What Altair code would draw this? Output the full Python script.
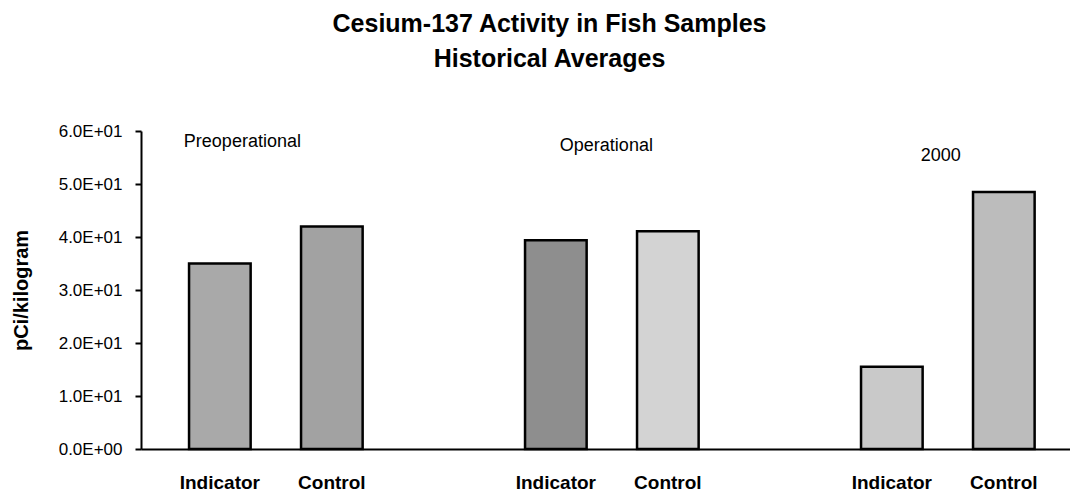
import altair as alt
import pandas as pd

# ---- data ----
periods = ["Preoperational", "Operational", "2000"]
sample_types = ["Indicator", "Control"]
indicator_vals = [35.0, 39.4, 15.5]
control_vals = [42.0, 41.1, 48.5]
label_y_vals = [57.9, 57.2, 55.3]          # where the period captions sit (pCi/kg units)
y_ticks = [0, 10, 20, 30, 40, 50, 60]

# x slots: two bars per period with an empty slot between periods
slots = [
    "Preoperational|Indicator", "Preoperational|Control", "gap1",
    "Operational|Indicator", "Operational|Control", "gap2",
    "2000|Indicator", "2000|Control",
]

rows = []
for p, iv, cv in zip(periods, indicator_vals, control_vals):
    rows.append({"slot": f"{p}|Indicator", "period": p, "type": "Indicator", "value": iv})
    rows.append({"slot": f"{p}|Control", "period": p, "type": "Control", "value": cv})
df = pd.DataFrame(rows)

lab_df = pd.DataFrame({
    "period": periods,
    "slot": [f"{p}|Indicator" for p in periods],
    "label_y": label_y_vals,
})

# styles
bar_keys = list(df["slot"])
bar_grays = ["#a9a9a9", "#a2a2a2", "#8e8e8e", "#d3d3d3", "#c9c9c9", "#bcbcbc"]
label_dx = {"Preoperational": -36, "Operational": 4, "2000": 29}
FONT = "Liberation Sans"

xscale = alt.Scale(domain=slots, paddingInner=0.45, paddingOuter=0.3724, align=0.576)
yscale = alt.Scale(domain=[0, 60], nice=False, zero=True)

x_axis = alt.Axis(
    title=None,
    labelExpr="indexof(datum.label, '|') >= 0 ? split(datum.label, '|')[1] : ''",
    labelFont=FONT, labelFontSize=19, labelFontWeight="bold", labelColor="black",
    labelPadding=24, labelBaseline="top", labelAngle=0,
    ticks=False, domainColor="black", domainWidth=2, grid=False,
)
y_axis = alt.Axis(
    title="pCi/kilogram", values=y_ticks,
    labelExpr="replace(upper(format(datum.value, '.1e')), 'E+', 'E+0')",
    labelFont=FONT, labelFontSize=17, labelColor="black", labelPadding=13,
    tickSize=6, tickColor="black", tickWidth=2,
    domainColor="black", domainWidth=2, grid=False,
    titleFont=FONT, titleFontSize=20, titleFontWeight="bold", titleColor="black",
    titleAngle=-90, titleX=-120, titleY=159, titleAlign="center", titleBaseline="middle",
)

bars = alt.Chart(df).mark_bar(stroke="black", strokeWidth=2.5).encode(
    x=alt.X("slot:N", scale=xscale, axis=x_axis, sort=slots),
    y=alt.Y("value:Q", scale=yscale, axis=y_axis),
    color=alt.Color("slot:N", scale=alt.Scale(domain=bar_keys, range=bar_grays), legend=None),
)

layers = [bars]
for p in periods:
    layers.append(
        alt.Chart(lab_df[lab_df["period"] == p]).mark_text(
            align="left", baseline="middle", dx=label_dx[p],
            font=FONT, fontSize=18, color="black",
        ).encode(
            x=alt.X("slot:N", scale=xscale, axis=x_axis, sort=slots),
            y=alt.Y("label_y:Q", scale=yscale, axis=y_axis),
            text="period:N",
        )
    )

chart = alt.layer(*layers).properties(
    width=929,
    height=318,
    background="white",
    title=alt.TitleParams(
        text=["Cesium-137 Activity in Fish Samples", "Historical Averages"],
        font=FONT, fontSize=25, fontWeight="bold", color="black",
        anchor="middle", dx=-56, offset=50, lineHeight=35,
    ),
    autosize=alt.AutoSizeParams(type="none"),
    padding={"left": 133, "top": 123, "right": 0, "bottom": 42},
).configure_view(strokeWidth=0).configure_axis(grid=False)

chart.save("out.html", embed_options={"renderer": "svg", "actions": False})
